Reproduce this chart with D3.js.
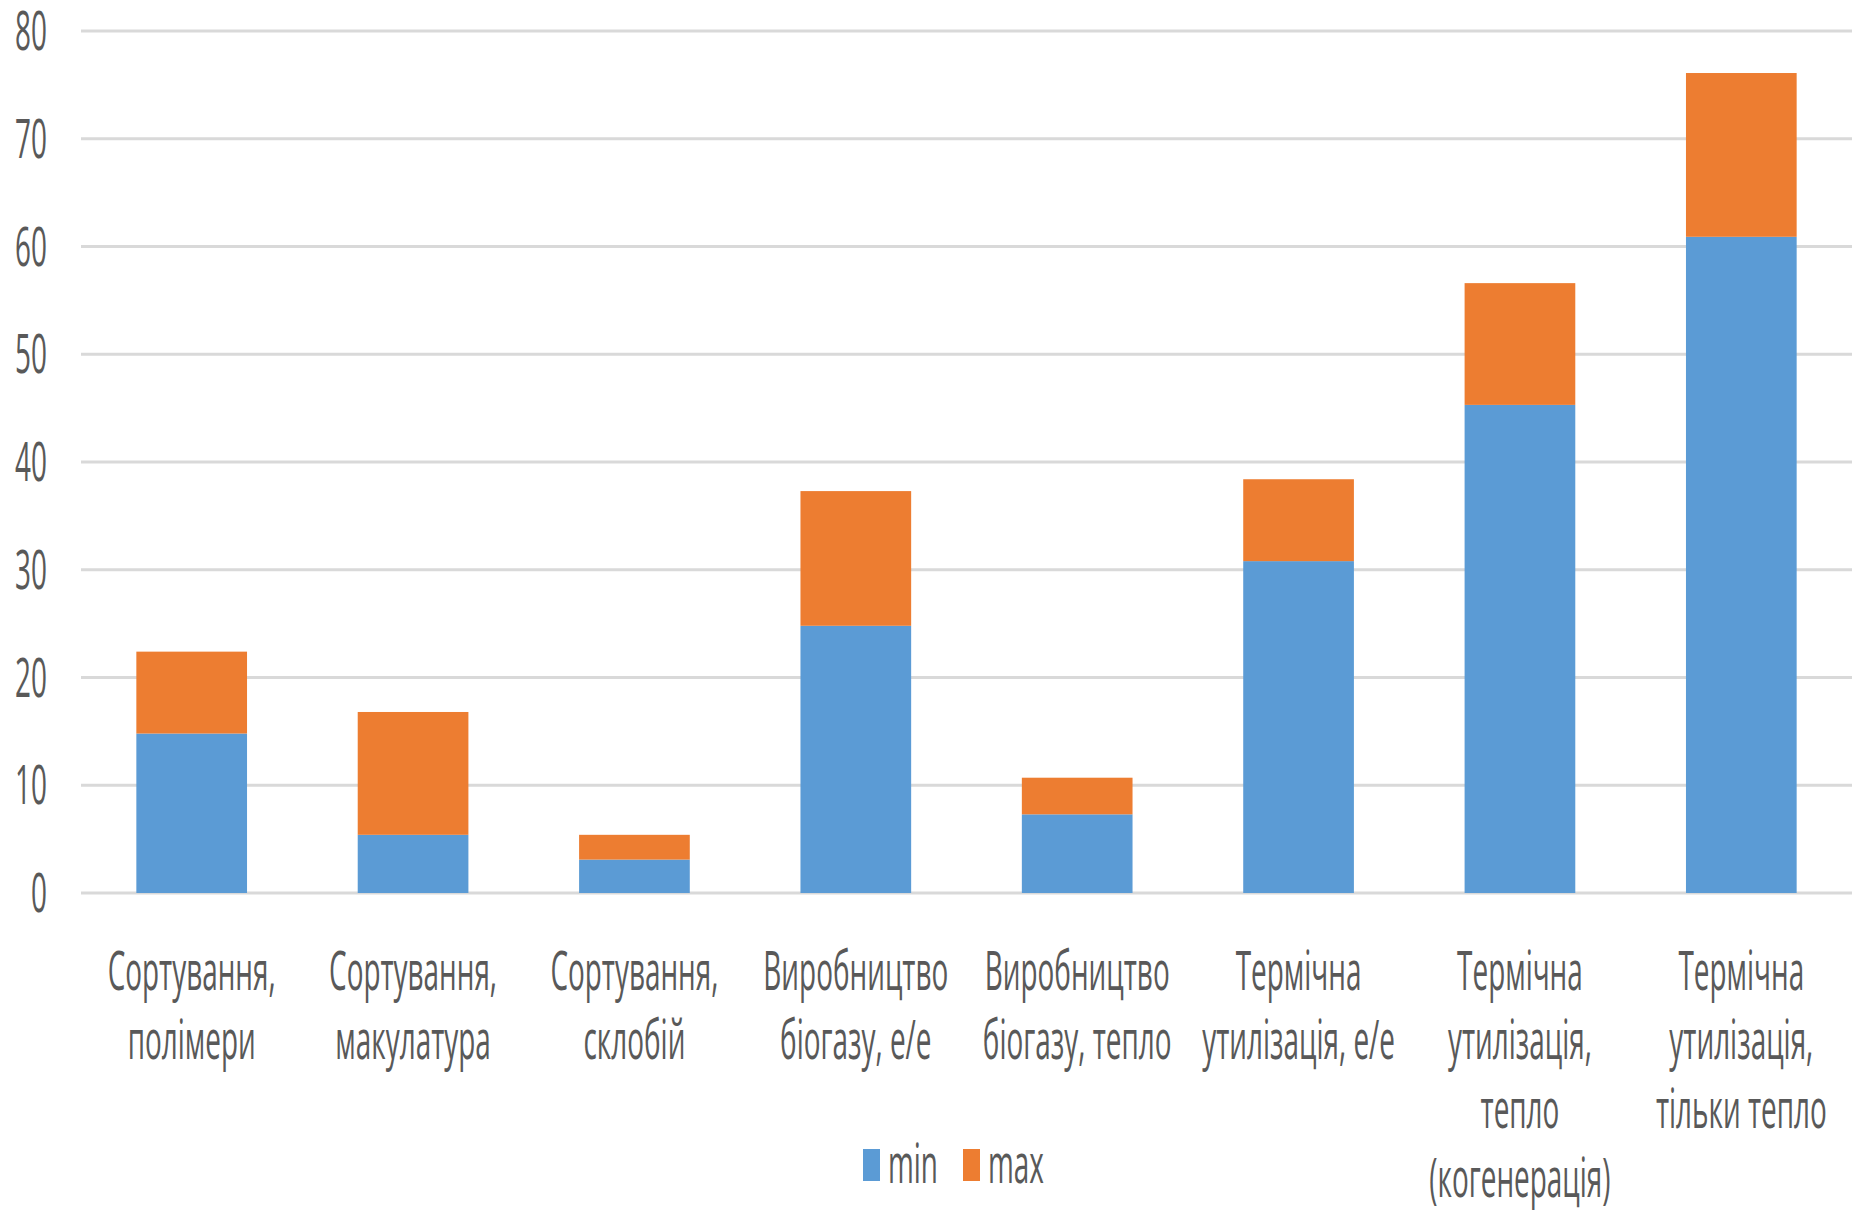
<!DOCTYPE html>
<html>
<head>
<meta charset="utf-8">
<script src="https://cdn.jsdelivr.net/npm/d3@7"></script>
<style>
  html, body { margin: 0; padding: 0; background: #ffffff; }
</style>
</head>
<body>
<div id="chart"></div>
<script>
// stacked columns: lower part = min, upper part = (max - min)
const categories = [
    "Сортування, полімери",
    "Сортування, макулатура",
    "Сортування, склобій",
    "Виробництво біогазу, е/е",
    "Виробництво біогазу, тепло",
    "Термічна утилізація, е/е",
    "Термічна утилізація, тепло (когенерація)",
    "Термічна утилізація, тільки тепло"
];
const labelLines = [
    ["Сортування,", "полімери"],
    ["Сортування,", "макулатура"],
    ["Сортування,", "склобій"],
    ["Виробництво", "біогазу, е/е"],
    ["Виробництво", "біогазу, тепло"],
    ["Термічна", "утилізація, е/е"],
    ["Термічна", "утилізація,", "тепло", "(когенерація)"],
    ["Термічна", "утилізація,", "тільки тепло"]
];
const minValues = [14.8, 5.4, 3.1, 24.8, 7.3, 30.8, 45.3, 60.9];
const maxValues = [7.6, 11.4, 2.3, 12.5, 3.4, 7.6, 11.3, 15.2];
const yTicks = [0, 10, 20, 30, 40, 50, 60, 70, 80];
const seriesNames = ["min", "max"];
const seriesColors = ["#5b9bd5", "#ed7d31"];

const width = 1860;
const height = 1210;
const plotLeft = 81, plotRight = 1852, plotTop = 31, plotBottom = 893;
const textColor = "#595959";
const fontFamily = "'Open Sans', 'Liberation Sans', sans-serif";
const fontSize = 30;
const sx = 0.93, sy = 1.82;   // the original text is tall and narrow

const svg = d3.select("#chart")
    .append("svg")
    .attr("width", width)
    .attr("height", height)
    .style("background-color", "#ffffff");

const table = categories.map((c, i) => ({ cat: c, min: minValues[i], max: maxValues[i] }));
const stacked = d3.stack().keys(seriesNames)(table);

const x = d3.scaleBand()
    .domain(categories)
    .range([plotLeft, plotRight])
    .paddingInner(0.5)
    .paddingOuter(0.25);

const y = d3.scaleLinear()
    .domain([0, 80])
    .range([plotBottom, plotTop]);

const color = d3.scaleOrdinal().domain(seriesNames).range(seriesColors);

// stretched text helper
function label(sel, tx, ty, str, anchor) {
    sel.append("g")
        .attr("transform", `translate(${tx},${ty}) scale(${sx},${sy})`)
        .append("text")
        .attr("text-anchor", anchor || "middle")
        .style("font-family", fontFamily)
        .style("font-size", fontSize + "px")
        .style("fill", textColor)
        .text(str);
}

// gridlines
svg.append("g")
    .selectAll("line")
    .data(yTicks)
    .enter()
    .append("line")
    .attr("x1", plotLeft)
    .attr("x2", plotRight)
    .attr("y1", d => y(d))
    .attr("y2", d => y(d))
    .attr("stroke", "#d9d9d9")
    .attr("stroke-width", 3);

// y tick labels
const yAxis = svg.append("g");
yTicks.forEach(t => label(yAxis, 47, y(t) + 19, t, "end"));

// bars
svg.append("g")
    .selectAll("g")
    .data(stacked)
    .enter()
    .append("g")
    .attr("fill", d => color(d.key))
    .selectAll("rect")
    .data(d => d)
    .enter()
    .append("rect")
    .attr("x", d => x(d.data.cat))
    .attr("width", x.bandwidth())
    .attr("y", d => y(d[1]))
    .attr("height", d => y(d[0]) - y(d[1]));

// category labels
const xAxis = svg.append("g");
categories.forEach((c, i) => {
    const cx = x(c) + x.bandwidth() / 2;
    labelLines[i].forEach((line, j) => label(xAxis, cx, 990 + j * 69, line));
});

// legend
const legend = svg.append("g");
const legendX = [863, 963];
seriesNames.forEach((s, i) => {
    legend.append("rect")
        .attr("x", legendX[i])
        .attr("y", 1149)
        .attr("width", 17)
        .attr("height", 32)
        .attr("fill", color(s));
    label(legend, legendX[i] + 25, 1183, s, "start");
});
</script>
</body>
</html>
